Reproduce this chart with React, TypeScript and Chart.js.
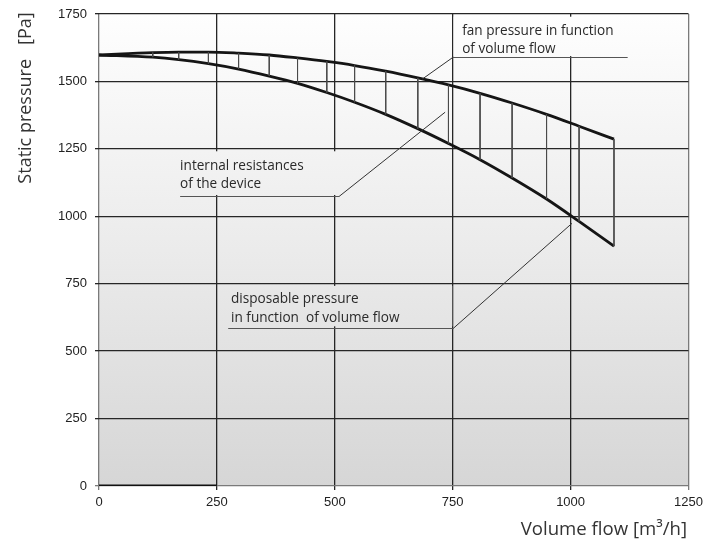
import { useEffect, useRef } from "react";
import { Chart, registerables } from "chart.js";

Chart.register(...registerables);

const xTickValues = [0, 250, 500, 750, 1000, 1250];
const yTickValues = [0, 250, 500, 750, 1000, 1250, 1500, 1750];
const volumeFlow = [0, 114, 169, 232, 296, 361, 421, 483, 542, 608, 676, 741, 808, 876, 949, 1018, 1092];
const fanPressure = [1598, 1607, 1609, 1609, 1605, 1598, 1587, 1574, 1559, 1538, 1513, 1487, 1456, 1420, 1378, 1334, 1286];
const disposablePressure = [1598, 1590, 1581, 1566, 1546, 1520, 1493, 1459, 1423, 1378, 1325, 1270, 1210, 1142, 1064, 981, 889];
const baseSegmentFlow = [0, 250];
const baseSegmentPressure = [0, 0];

const noteFanText = ["fan pressure in function", "of volume flow"];
const noteInternalText = ["internal resistances", "of the device"];
const noteDisposableText = ["disposable pressure", "in function  of volume flow"];

const yTitle = "Static pressure   [Pa]";
const xTitle = "Volume flow [m³/h]";

type Note = {
  lines: string[];
  textX: number;
  baselines: number[];
  underY: number;
  underX0: number;
  underX1: number;
  leaderX: number;
  leaderY: number;
  cover: [number, number, number, number];
};

const notes: Note[] = [
  {
    lines: noteFanText,
    textX: 770,
    baselines: [1672, 1605],
    underY: 1590,
    underX0: 750,
    underX1: 1121,
    leaderX: 685,
    leaderY: 1508,
    cover: [752, 1740, 1128, 1594],
  },
  {
    lines: noteInternalText,
    textX: 172,
    baselines: [1170, 1104],
    underY: 1074,
    underX0: 172,
    underX1: 509,
    leaderX: 734,
    leaderY: 1386,
    cover: [172, 1241, 512, 1079],
  },
  {
    lines: noteDisposableText,
    textX: 280,
    baselines: [680, 607],
    underY: 587,
    underX0: 274,
    underX1: 751,
    leaderX: 1003,
    leaderY: 974,
    cover: [274, 742, 749, 592],
  },
];

function makeGradient(ctx: CanvasRenderingContext2D, area: any) {
  const g = ctx.createLinearGradient(0, area.top, 0, area.bottom);
  g.addColorStop(0, "#fefefe");
  g.addColorStop(0.5, "#ebebeb");
  g.addColorStop(1, "#d6d6d6");
  return g;
}

const decorPlugin = {
  id: "decor",
  beforeDraw(chart: any) {
    const { ctx, chartArea } = chart;
    ctx.save();
    ctx.fillStyle = "#ffffff";
    ctx.fillRect(0, 0, chart.width, chart.height);
    ctx.fillStyle = makeGradient(ctx, chartArea);
    ctx.fillRect(chartArea.left, chartArea.top, chartArea.right - chartArea.left, chartArea.bottom - chartArea.top);
    ctx.restore();
  },
  beforeDatasetsDraw(chart: any) {
    const { ctx, chartArea, scales } = chart;
    const x = scales.x;
    const y = scales.y;
    ctx.save();
    ctx.fillStyle = makeGradient(ctx, chartArea);
    for (const n of notes) {
      const [x0, y0, x1, y1] = n.cover;
      const px0 = x.getPixelForValue(x0);
      const px1 = x.getPixelForValue(x1);
      const py0 = y.getPixelForValue(y0);
      const py1 = y.getPixelForValue(y1);
      ctx.fillRect(px0, py0, px1 - px0, py1 - py0);
    }
    ctx.restore();
  },
  afterDatasetsDraw(chart: any) {
    const { ctx, scales } = chart;
    const x = scales.x;
    const y = scales.y;
    ctx.save();
    for (const n of notes) {
      ctx.font = "13.6px 'Open Sans', sans-serif";
      ctx.fillStyle = "#2a2a2a";
      ctx.textAlign = "left";
      ctx.textBaseline = "alphabetic";
      n.lines.forEach((line, i) => {
        ctx.fillText(line, x.getPixelForValue(n.textX), y.getPixelForValue(n.baselines[i]));
      });
      const uy = Math.round(y.getPixelForValue(n.underY)) + 0.5;
      ctx.strokeStyle = "#555555";
      ctx.lineWidth = 1;
      ctx.beginPath();
      ctx.moveTo(x.getPixelForValue(n.underX0), uy);
      ctx.lineTo(x.getPixelForValue(n.underX1), uy);
      ctx.stroke();
      ctx.strokeStyle = "#333333";
      ctx.beginPath();
      ctx.moveTo(x.getPixelForValue(n.underX1 > n.leaderX ? n.underX0 : n.underX1), uy);
      ctx.lineTo(x.getPixelForValue(n.leaderX), y.getPixelForValue(n.leaderY));
      ctx.stroke();
    }
    ctx.restore();
  },
  afterDraw(chart: any) {
    const { ctx } = chart;
    ctx.save();
    ctx.fillStyle = "#333333";
    ctx.font = "18px 'Open Sans', sans-serif";
    ctx.textBaseline = "alphabetic";
    ctx.save();
    ctx.translate(31, 98);
    ctx.rotate(-Math.PI / 2);
    ctx.textAlign = "center";
    ctx.fillText(yTitle, 0, 0);
    ctx.restore();
    ctx.font = "18.6px 'Open Sans', sans-serif";
    ctx.textAlign = "right";
    ctx.fillText(xTitle, 687, 535);
    ctx.restore();
  },
};

export default function App() {
  const canvasRef = useRef<HTMLCanvasElement | null>(null);

  useEffect(() => {
    document.body.style.margin = "0";
    const canvas = canvasRef.current;
    if (!canvas) return;

    const curveFan = volumeFlow.map((v, i) => ({ x: v, y: fanPressure[i] }));
    const curveDisp = volumeFlow.map((v, i) => ({ x: v, y: disposablePressure[i] }));
    const hatch: any[] = [];
    volumeFlow.forEach((v, i) => {
      if (i === 0) return;
      hatch.push({ x: v, y: fanPressure[i] }, { x: v, y: disposablePressure[i] }, { x: v, y: null });
    });
    const base = baseSegmentFlow.map((v, i) => ({ x: v, y: baseSegmentPressure[i] }));

    const gridColor = (edgeValue: number) => (c: any) =>
      c.tick && (c.tick.value === 0 || c.tick.value === edgeValue) ? "#7a7a7a" : "#262626";

    const chart = new Chart(canvas, {
      type: "scatter",
      data: {
        datasets: [
          {
            label: "hatch",
            data: hatch,
            showLine: true,
            spanGaps: false,
            borderColor: "#4a4a4a",
            borderWidth: 1,
            pointRadius: 0,
            tension: 0,
          },
          {
            label: "fan pressure",
            data: curveFan,
            showLine: true,
            borderColor: "#151515",
            borderWidth: 2.8,
            pointRadius: 0,
            cubicInterpolationMode: "monotone",
          },
          {
            label: "disposable pressure",
            data: curveDisp,
            showLine: true,
            borderColor: "#151515",
            borderWidth: 2.8,
            pointRadius: 0,
            cubicInterpolationMode: "monotone",
          },
          {
            label: "base",
            data: base,
            showLine: true,
            borderColor: "#111111",
            borderWidth: 3,
            pointRadius: 0,
          },
        ],
      },
      options: {
        animation: false,
        responsive: false,
        maintainAspectRatio: false,
        devicePixelRatio: 1,
        layout: { padding: { top: 14, right: 16.5, left: 0, bottom: 0 } },
        plugins: {
          legend: { display: false },
          tooltip: { enabled: false },
        },
        scales: {
          x: {
            type: "linear",
            min: 0,
            max: 1250,
            afterBuildTicks: (s: any) => {
              s.ticks = xTickValues.map((v) => ({ value: v }));
            },
            afterFit: (s: any) => {
              s.height = 61;
              s.paddingLeft = 0;
              s.paddingRight = 0;
            },
            ticks: {
              font: { family: "'Liberation Sans', Arial, sans-serif", size: 13 },
              color: "#222222",
              padding: 5,
              maxRotation: 0,
              callback: (v: any) => String(v),
            },
            grid: {
              color: gridColor(1250),
              lineWidth: 1.3,
              tickLength: 4,
              drawTicks: true,
            },
            border: { display: false },
          },
          y: {
            type: "linear",
            min: 0,
            max: 1750,
            afterBuildTicks: (s: any) => {
              s.ticks = yTickValues.map((v) => ({ value: v }));
            },
            afterFit: (s: any) => {
              s.width = 99;
              s.paddingTop = 0;
              s.paddingBottom = 0;
            },
            ticks: {
              font: { family: "'Liberation Sans', Arial, sans-serif", size: 13 },
              color: "#222222",
              padding: 8,
              callback: (v: any) => String(v),
            },
            grid: {
              color: gridColor(-1),
              lineWidth: 1.3,
              tickLength: 4,
            },
            border: { display: false },
          },
        },
      },
      plugins: [decorPlugin],
    });

    const fonts: any = (document as any).fonts;
    if (fonts && fonts.load) {
      Promise.all([fonts.load("12px 'Open Sans'"), fonts.load("13px 'Liberation Sans'")]).then(() => {
        try {
          chart.draw();
        } catch (e) {}
      });
    }

    return () => {
      chart.destroy();
    };
  }, []);

  return (
    <div style={{ width: 705, height: 547, position: "relative" }}>
      <canvas ref={canvasRef} width={705} height={547} style={{ width: 705, height: 547, display: "block" }} />
    </div>
  );
}
